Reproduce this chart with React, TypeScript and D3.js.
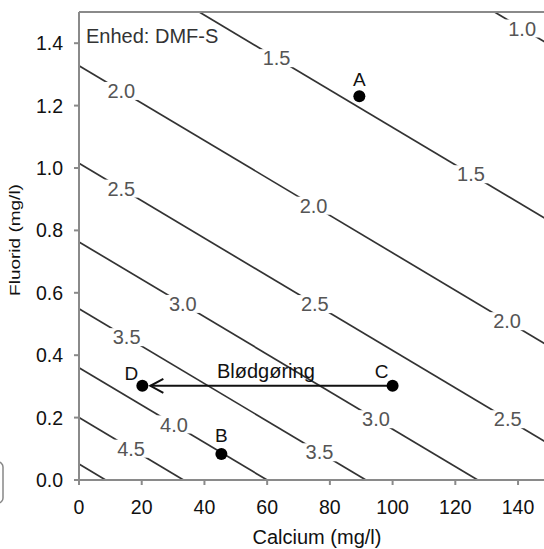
import React, { useEffect, useRef } from 'react';
import * as d3 from 'd3';

// contour levels (DMF-S) and the fluoride value where each line meets Ca = 0
const contourLevels = [1.0, 1.5, 2.0, 2.5, 3.0, 3.5, 4.0, 4.5, 5.0];
const fluorAtZeroCa = [2.295, 1.73, 1.328, 1.015, 0.763, 0.549, 0.36, 0.2, 0.051];
const contourSlope = -0.006; // mg/l F per mg/l Ca
// calcium positions of the inline labels on each contour
const labelCa = [[141.3], [63, 125], [13.5, 74.8, 136.5], [13.5, 75.2, 136.7], [33.1, 94.7], [15.2, 76.7], [30.3], [16.6], []];

const pointNames = ['A', 'B', 'C', 'D'];
const pointCa = [89.4, 45.4, 100, 20.2];
const pointF = [1.23, 0.083, 0.302, 0.302];

const caTicks = [0, 20, 40, 60, 80, 100, 120, 140];
const fTicks = [0, 0.2, 0.4, 0.6, 0.8, 1.0, 1.2, 1.4];

const width = 544;
const height = 549;
const font = '"Liberation Sans", Arial, sans-serif';

const App = () => {
  const ref = useRef<SVGSVGElement>(null);

  useEffect(() => {
    const svg = d3.select(ref.current);
    svg.selectAll('*').remove();

    const x = d3.scaleLinear().domain([0, 150]).range([79, 549.4]);
    const y = d3.scaleLinear().domain([0, 1.5]).range([480, 12]);

    const g = svg.append('g').style('font-family', font);

    // contour lines
    const lineOf = (c: number) => {
      // clip F = c + slope*Ca to the plot box
      let ca0 = 0, f0 = c;
      if (f0 > 1.5) { ca0 = (1.5 - c) / contourSlope; f0 = 1.5; }
      let ca1 = 150, f1 = c + contourSlope * 150;
      if (f1 < 0) { ca1 = -c / contourSlope; f1 = 0; }
      return [[ca0, f0], [ca1, f1]];
    };

    contourLevels.forEach((lvl, i) => {
      const [[a0, b0], [a1, b1]] = lineOf(fluorAtZeroCa[i]);
      g.append('line')
        .attr('x1', x(a0)).attr('y1', y(b0))
        .attr('x2', x(a1)).attr('y2', y(b1))
        .attr('stroke', '#333')
        .attr('stroke-width', 1.7);
    });

    // contour labels with white knock-out behind
    contourLevels.forEach((lvl, i) => {
      labelCa[i].forEach(ca => {
        const f = fluorAtZeroCa[i] + contourSlope * ca;
        const lx = x(ca), ly = y(f);
        g.append('rect')
          .attr('x', lx - 17).attr('y', ly - 9)
          .attr('width', 34).attr('height', 18)
          .attr('fill', '#fff');
        g.append('text')
          .attr('x', lx).attr('y', ly)
          .attr('dy', '0.36em')
          .attr('text-anchor', 'middle')
          .style('font-size', '20px')
          .style('fill', '#555')
          .text(lvl.toFixed(1));
      });
    });

    // axes
    const axisColor = '#8a8a8a';
    g.append('line').attr('x1', 79).attr('x2', width).attr('y1', 12).attr('y2', 12)
      .attr('stroke', axisColor).attr('stroke-width', 2);
    g.append('line').attr('x1', 79).attr('x2', 79).attr('y1', 12).attr('y2', 485)
      .attr('stroke', axisColor).attr('stroke-width', 2);
    g.append('line').attr('x1', 74).attr('x2', width).attr('y1', 480).attr('y2', 480)
      .attr('stroke', axisColor).attr('stroke-width', 2);

    caTicks.forEach(t => {
      g.append('line').attr('x1', x(t)).attr('x2', x(t)).attr('y1', 480).attr('y2', 485)
        .attr('stroke', axisColor).attr('stroke-width', 2);
      g.append('text')
        .attr('x', x(t)).attr('y', 514)
        .attr('text-anchor', 'middle')
        .style('font-size', '19.5px')
        .style('fill', '#111')
        .text(t);
    });

    fTicks.forEach(t => {
      g.append('line').attr('x1', 74).attr('x2', 79).attr('y1', y(t)).attr('y2', y(t))
        .attr('stroke', axisColor).attr('stroke-width', 2);
      g.append('text')
        .attr('x', 63).attr('y', y(t))
        .attr('dy', '0.36em')
        .attr('text-anchor', 'end')
        .style('font-size', '19.5px')
        .style('fill', '#111')
        .text(t.toFixed(1));
    });

    // axis titles
    g.append('text')
      .attr('x', 317).attr('y', 544)
      .attr('text-anchor', 'middle')
      .style('font-size', '20px')
      .style('fill', '#111')
      .text('Calcium (mg/l)');

    g.append('text')
      .attr('transform', 'translate(20, 240) rotate(-90) scale(1, 0.74)')
      .attr('text-anchor', 'middle')
      .style('font-size', '19px')
      .style('fill', '#111')
      .text('Fluorid (mg/l)');

    // unit note
    g.append('text')
      .attr('x', 86).attr('y', 43)
      .style('font-size', '20px')
      .style('fill', '#333')
      .text('Enhed: DMF-S');

    // softening arrow C -> D
    const yArrow = y(pointF[2]);
    const tip = x(pointCa[3]) + 8;
    g.append('line')
      .attr('x1', x(pointCa[2])).attr('x2', tip)
      .attr('y1', yArrow).attr('y2', yArrow)
      .attr('stroke', '#111').attr('stroke-width', 2);
    g.append('path')
      .attr('d', `M${tip + 13},${yArrow - 7}L${tip},${yArrow}L${tip + 13},${yArrow + 7}`)
      .attr('fill', 'none')
      .attr('stroke', '#111').attr('stroke-width', 2);
    g.append('text')
      .attr('x', x(59.6)).attr('y', yArrow - 8)
      .attr('text-anchor', 'middle')
      .style('font-size', '20px')
      .style('fill', '#111')
      .text('Blødgøring');

    // points
    const labelOffset = [[0, -17], [0, -19], [-11, -15], [-11, -13]];
    pointNames.forEach((name, i) => {
      g.append('circle')
        .attr('cx', x(pointCa[i])).attr('cy', y(pointF[i]))
        .attr('r', 6)
        .attr('fill', '#000');
      g.append('text')
        .attr('x', x(pointCa[i]) + labelOffset[i][0])
        .attr('y', y(pointF[i]) + labelOffset[i][1])
        .attr('dy', '0.36em')
        .attr('text-anchor', 'middle')
        .style('font-size', '19px')
        .style('fill', '#111')
        .text(name);
    });

    // cut-off legend box edge at the left
    g.append('rect')
      .attr('x', -20).attr('y', 462)
      .attr('width', 23).attr('height', 41)
      .attr('rx', 5)
      .attr('fill', 'none')
      .attr('stroke', '#888').attr('stroke-width', 1.5);
  }, []);

  return (
    <svg ref={ref} width={width} height={height}
      style={{ position: 'absolute', left: 0, top: 0, background: '#fff' }} />
  );
};

export default App;
